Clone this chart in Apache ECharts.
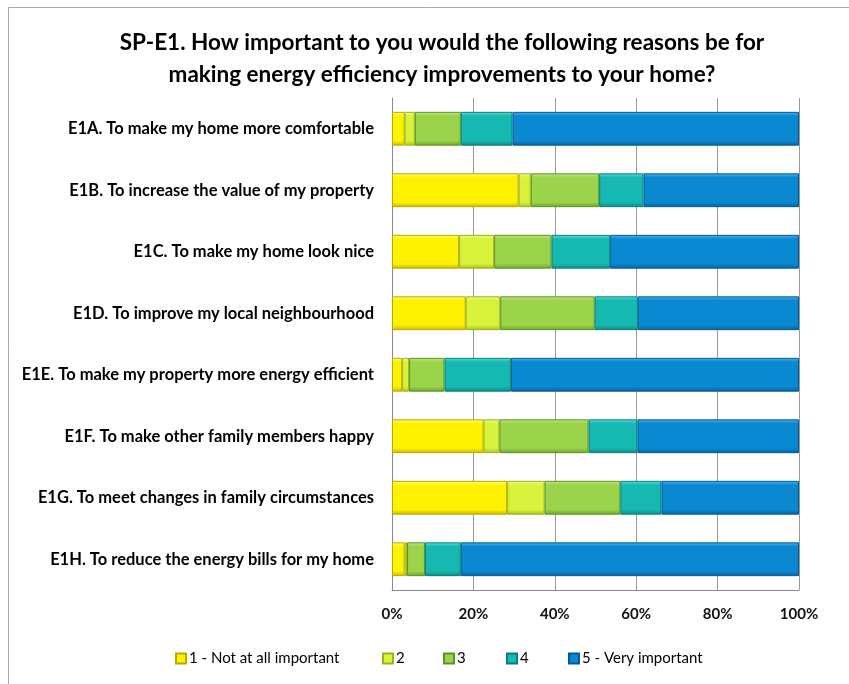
<!DOCTYPE html>
<html><head><meta charset="utf-8">
<script src="https://cdn.jsdelivr.net/npm/echarts@6/dist/echarts.min.js"></script>
<style>html,body{margin:0;padding:0;background:#fff}#c{width:849px;height:684px}</style>
</head><body><div id="c"></div>
<script>
const categories = [
  "E1A. To make my home more comfortable",
  "E1B. To increase the value of my property",
  "E1C. To make my home look nice",
  "E1D. To improve my local neighbourhood",
  "E1E. To make my property more energy efficient",
  "E1F. To make other family members happy",
  "E1G. To meet changes in family circumstances",
  "E1H. To reduce the energy bills for my home"
];
const seriesNames = ["1 - Not at all important", "2", "3", "4", "5 - Very important"];
const s1 = [3.1, 31.1, 16.5, 18.1, 2.5, 22.5, 28.3, 3.1];
const s2 = [2.5, 3.0, 8.6, 8.5, 1.7, 3.9, 9.2, 0.6];
const s3 = [11.3, 16.8, 14.1, 23.2, 8.7, 21.9, 18.6, 4.4];
const s4 = [12.7, 10.9, 14.4, 10.6, 16.3, 12.0, 10.1, 8.8];
const s5 = [70.4, 38.2, 46.4, 39.6, 70.8, 39.7, 33.8, 83.1];
const xTicks = [0, 20, 40, 60, 80, 100];

const palette = [
  {light:'#ffff80', base:'#fff200', dark:'#c8b800', border:'#b8aa00'},
  {light:'#eeff90', base:'#d9f23c', dark:'#a9c21c', border:'#9ab414'},
  {light:'#c4ea88', base:'#9bd34a', dark:'#6ea42a', border:'#5f9222'},
  {light:'#5fe0da', base:'#16b9b2', dark:'#0b8a84', border:'#08807a'},
  {light:'#4ab8ee', base:'#0a89d2', dark:'#0663a0', border:'#055a92'}
];
const legendLefts = [175, 382, 443, 506, 568];
const FONT = 'Lato';
const chart = echarts.init(document.getElementById('c'), null, {renderer:'canvas'});
const data = [s1, s2, s3, s4, s5];
const series = data.map((d, i) => ({
  name: seriesNames[i],
  type: 'bar',
  stack: 'all',
  barCategoryGap: '45%',
  data: d,
  itemStyle: {
    color: new echarts.graphic.LinearGradient(0, 0, 0, 1, [
      {offset: 0, color: palette[i].light},
      {offset: 0.12, color: palette[i].base},
      {offset: 0.85, color: palette[i].base},
      {offset: 1, color: palette[i].dark}
    ]),
    borderColor: palette[i].border,
    borderWidth: 1
  },
  emphasis: {disabled: true}
}));
const legends = seriesNames.map((n, i) => ({
  data: [n],
  left: legendLefts[i], top: 651, padding: 0,
  icon: 'rect', itemWidth: 10, itemHeight: 10, itemGap: 0,
  selectedMode: false,
  textStyle: {fontFamily: FONT, fontSize: 15, color: '#000', padding: [0,0,0,-2]}
}));
chart.setOption({
  animation: false,
  color: palette.map(p => p.base),
  title: {
    text: 'SP-E1. How important to you would the following reasons be for\nmaking energy efficiency improvements to your home?',
    left: 437, top: 22, textAlign: 'center',
    textStyle: {fontFamily: FONT, fontSize: 22.5, fontWeight: 'bold', color: '#000', lineHeight: 32}
  },
  legend: legends,
  grid: {left: 392, right: 50, top: 98, bottom: 94},
  xAxis: {
    type: 'value', min: 0, max: 100, interval: 20,
    axisLine: {show: true, lineStyle: {color: '#888'}},
    axisTick: {show: false},
    splitLine: {show: true, lineStyle: {color: '#999', width: 1}},
    axisLabel: {fontFamily: FONT, fontSize: 15, fontWeight: 'bold', color: '#111', margin: 17,
      formatter: v => xTicks.includes(v) ? v + '%' : ''}
  },
  yAxis: {
    type: 'category', data: categories, inverse: true,
    axisLine: {show: true, lineStyle: {color: '#888'}},
    axisTick: {show: false},
    axisLabel: {fontFamily: FONT, fontSize: 16.5, fontWeight: 'bold', color: '#000', margin: 18}
  },
  graphic: [{
    type: 'polyline', shape: {points: [[8.5, 684], [8.5, 7.5], [849, 7.5]]},
    style: {stroke: '#aaa', lineWidth: 1, fill: null}, silent: true
  }],
  series: series
});
</script></body></html>
